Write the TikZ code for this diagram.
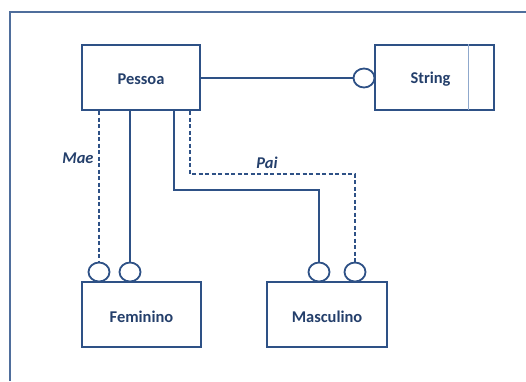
\documentclass[tikz,border=0pt]{standalone}
\usepackage{fontspec}
\setmainfont{Carlito}
\usetikzlibrary{shapes.geometric}
\definecolor{umlline}{HTML}{2E5186}
\definecolor{umltext}{HTML}{243F6B}
\definecolor{umlframe}{HTML}{4F6E9C}
\definecolor{umlsep}{HTML}{8FA8CC}
% class names sit a little below the middle of their box
\newcommand{\classname}[1]{\raisebox{-2bp}[\height][\depth]{#1}}
\tikzset{
  classbox/.style={draw=umlline, line width=2bp, fill=white, minimum width=118bp,
    minimum height=65bp, inner sep=0pt, font=\fontsize{16.5}{18}\selectfont\bfseries,
    text=umltext},
  ifcircle/.style={ellipse, draw=umlline, line width=1.8bp, fill=white,
    minimum width=21bp, minimum height=19bp, inner sep=0pt},
  link/.style={draw=umlline, line width=1.7bp},
  weak/.style={link, dash pattern=on 4bp off 2.5bp},
  rolelabel/.style={font=\fontsize{16.5}{18}\selectfont\bfseries\itshape, text=umltext}
}
\begin{document}
\begin{tikzpicture}[x=1bp, y=-1bp]
\useasboundingbox (0,0) rectangle (526,381);
% outer frame (only its left and top edges fall on the page)
\draw[umlframe, line width=1.5bp] (10,381) -- (10,12) -- (526,12);

% classes
\node[classbox] (pessoa) at (141,77.5) {\classname{Pessoa}};
\node[classbox, minimum width=119bp] (string) at (434.5,77) {\hspace*{-8bp}\classname{String}};
\draw[umlsep, line width=1bp] (468,44) -- (468,110);
\node[classbox, minimum width=119bp] (feminino) at (141.5,314.5) {\classname{Feminino}};
\node[classbox, minimum width=120bp] (masculino) at (327,314.5) {\classname{Masculino}};

% interface sockets
\node[ifcircle] (strsock) at (364,78) {};
\node[ifcircle] (fem1) at (99,272) {};
\node[ifcircle] (fem2) at (130,272) {};
\node[ifcircle] (mas1) at (319,272) {};
\node[ifcircle] (mas2) at (355,272) {};

% Pessoa -- String
\draw[link] (pessoa.east |- strsock) -- (strsock.west);

% Pessoa -- Feminino
\draw[weak] (pessoa.south -| fem1) -- (fem1.north);
\draw[link] (pessoa.south -| fem2) -- (fem2.north);

% Pessoa -- Masculino
\coordinate (solidbend) at (174,190);
\coordinate (dashbend) at (190,174);
\draw[link] (pessoa.south -| solidbend) -- (solidbend) -| (mas1.north);
\draw[weak] (pessoa.south -| dashbend) -- (dashbend) -| (mas2.north);

% role names
\node[rolelabel] (mae) at (78,158) {Mae};
\node[rolelabel] (pai) at (267,163) {Pai};
\end{tikzpicture}
\end{document}
